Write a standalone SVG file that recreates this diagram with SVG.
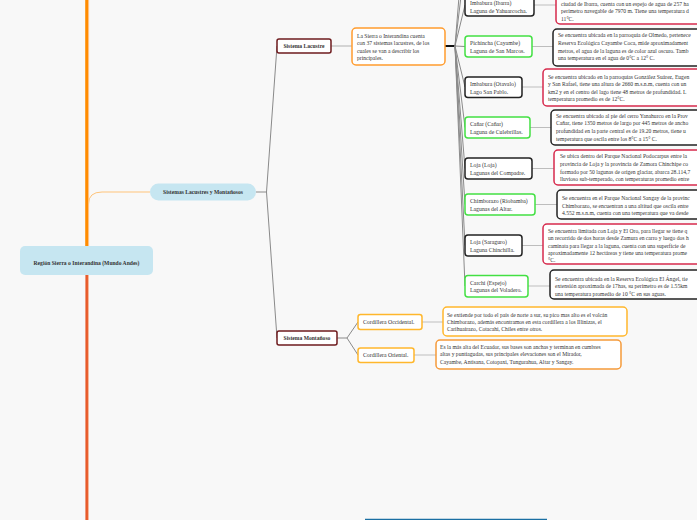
<svg xmlns="http://www.w3.org/2000/svg" width="697" height="520" viewBox="0 0 697 520">
<style>
text{font-family:"Liberation Serif","Times New Roman",serif;font-size:5.6px;fill:#333}
.b{font-weight:bold;text-anchor:middle}
.c{font-size:5.8px}
.blue{fill:#c6e6f1;stroke:none}
.sys{fill:#fff;stroke:#6e1b1e;stroke-width:1.5}
.blk{fill:#fff;stroke:#222;stroke-width:1.5}
.grn{fill:#fff;stroke:#43e043;stroke-width:1.5}
.red{fill:#fff;stroke:#d62a4c;stroke-width:1.5}
.org{fill:#fff;stroke:#ff9c2e;stroke-width:1.5}
.yel{fill:#fff;stroke:#ffb72c;stroke-width:1.5}
.g{fill:none;stroke:#8a8a8a;stroke-width:1}
.lg{fill:none;stroke:#bdbdbd;stroke-width:1.2}
</style>
<rect x="0" y="0" width="697" height="520" fill="#f8f8f8"/>
<g id="connectors">
<line x1="86.7" y1="0" x2="86.7" y2="246" stroke="#ff8c00" stroke-width="3"/>
<line x1="88.6" y1="0" x2="88.6" y2="246" stroke="#ffb46a" stroke-width="0.8"/>
<line x1="86.7" y1="275" x2="86.7" y2="520" stroke="#e85a2a" stroke-width="2.6"/>
<line x1="88.4" y1="275" x2="88.4" y2="520" stroke="#f5a07a" stroke-width="0.8"/>
<path d="M88.5,204 Q88.5,192 102,192 L150,192" fill="none" stroke="#ffc47a" stroke-width="1"/>
<path class="g" d="M256,192 L266.5,192 L277,46 M266.5,192 L277,338"/>
<line class="lg" x1="331" y1="46" x2="352" y2="46"/>
<line x1="445" y1="46" x2="456" y2="46" stroke="#111" stroke-width="2"/>
<path class="g" d="M455,46 L462,-40 M455,46 L463,-20 M455,46 L465,5 M455,46 L465,46.5 M455,46 L465,87 M455,46 L465,127.5 M455,46 L465,168.5 M455,46 L465,204.5 M455,46 L465,245.5 M455,46 L465,286"/>
<path class="lg" d="M534,5 L556,5 M532,46.5 L553,46.5 M522,87 L543,87 M530,127.5 L551,127.5 M532,168.5 L554,168.5 M535,204.5 L557,204.5 M522,245.5 L543,245.5 M528,286 L550,286"/>
<path class="g" d="M337,338 L347,338 L358,322 M347,338 L358,355"/>
<path class="lg" d="M422,322 L443,322 M414,355 L436,355"/>
<line x1="365" y1="519.5" x2="547" y2="519.5" stroke="#1a6fa3" stroke-width="1.5"/>
</g>
<g id="region">
<rect class="blue" x="20" y="246" width="133" height="29" rx="5"/>
<text class="b" x="86.5" y="265">Región Sierra o Interandina (Mundo Andes)</text>
</g>
<g id="sistemas">
<rect class="blue" x="150" y="183.5" width="106" height="17" rx="8.5"/>
<text class="b" x="203" y="194">Sistemas Lacustres y Montañosos</text>
</g>
<g id="lacustre">
<rect class="sys" x="277" y="39" width="54" height="14" rx="2"/>
<text class="b" x="304" y="48">Sistema Lacustre</text>
</g>
<g id="lacustre-desc">
<rect class="org" x="352" y="28" width="93" height="37" rx="4"/>
<text x="357" y="37.5">La Sierra o Interandina cuenta</text>
<text x="357" y="45">con 37 sistemas lacustres, de los</text>
<text x="357" y="52.5">cuales se van a describir los</text>
<text x="357" y="60">principales.</text>
</g>
<g id="ibarra">
<rect class="blk" x="465" y="-5" width="69" height="21" rx="3"/>
<text class="c" x="470" y="5">Imbabura (Ibarra)</text>
<text class="c" x="470" y="12.5">Laguna de Yahuarcocha.</text>
</g>
<g id="ibarra-desc">
<rect class="red" x="556" y="-30" width="160" height="54" rx="4"/>
<text x="561" y="5.5">ciudad de Ibarra, cuenta con un espejo de agua de 257 ha</text>
<text x="561" y="13">perímetro navegable de 7970 m. Tiene una temperatura d</text>
<text x="561" y="20.5">11°C.</text>
</g>
<g id="pichincha">
<rect class="grn" x="465" y="36" width="67" height="21" rx="3"/>
<text class="c" x="470" y="45">Pichincha (Cayambe)</text>
<text class="c" x="470" y="52.5">Laguna de San Marcos.</text>
</g>
<g id="pichincha-desc">
<rect class="blk" x="553" y="29" width="160" height="37" rx="4"/>
<text x="558" y="37">Se encuentra ubicada en la parroquia de Olmedo, pertenece</text>
<text x="558" y="44.5">Reserva Ecológica Cayambe Coca, mide aproximadament</text>
<text x="558" y="52.5">metros, el agua de la laguna es de color azul oscuro. Tamb</text>
<text x="558" y="60">una temperatura en el agua de 0°C a 12° C.</text>
</g>
<g id="otavalo">
<rect class="blk" x="465" y="77" width="57" height="20.5" rx="3"/>
<text class="c" x="470" y="86">Imbabura (Otavalo)</text>
<text class="c" x="470" y="93.5">Lago San Pablo.</text>
</g>
<g id="otavalo-desc">
<rect class="red" x="543" y="69" width="170" height="37" rx="4"/>
<text x="548" y="78.5">Se encuentra ubicado en la parroquias González Suárez, Eugen</text>
<text x="548" y="86">y San Rafael, tiene una altura de 2660 m.s.n.m, cuenta con un</text>
<text x="548" y="93.5">km2 y en el centro del lago tiene 48 metros de profundidad. L</text>
<text x="548" y="101">temperatura promedio es de 12°C.</text>
</g>
<g id="canar">
<rect class="grn" x="465" y="117" width="65" height="21" rx="3"/>
<text class="c" x="470" y="126">Cañar (Cañar)</text>
<text class="c" x="470" y="133.5">Laguna de Culebrillas.</text>
</g>
<g id="canar-desc">
<rect class="blk" x="551" y="110" width="160" height="35" rx="4"/>
<text x="556" y="117.5">Se encuentra ubicado al pie del cerro Yanahurco en la Prov</text>
<text x="556" y="125">Cañar, tiene 1350 metros de largo por 445 metros de ancho</text>
<text x="556" y="133">profundidad en la parte central es de 19.20 metros, tiene u</text>
<text x="556" y="140.5">temperatura que oscila entre los 8°C a 15° C.</text>
</g>
<g id="loja">
<rect class="blk" x="465" y="158" width="67" height="21" rx="3"/>
<text class="c" x="470" y="167">Loja (Loja)</text>
<text class="c" x="470" y="174.5">Lagunas del Compadre.</text>
</g>
<g id="loja-desc">
<rect class="red" x="554" y="150" width="160" height="35" rx="4"/>
<text x="560" y="158">Se ubica dentro del Parque Nacional Podocarpus entre la</text>
<text x="560" y="166">provincia de Loja y la provincia de Zamora Chinchipe co</text>
<text x="560" y="173.5">formado por 50 lagunas de origen glaciar, abarca 28.114,7</text>
<text x="560" y="181">lluvioso sub-temperado, con temperaturas promedio entre</text>
</g>
<g id="chimborazo">
<rect class="grn" x="465" y="194" width="70" height="21" rx="3"/>
<text class="c" x="470" y="203">Chimborazo (Riobamba)</text>
<text class="c" x="470" y="210.5">Lagunas del Altar.</text>
</g>
<g id="chimborazo-desc">
<rect class="blk" x="557" y="190" width="160" height="29" rx="4"/>
<text x="562" y="200">Se encuentra en el Parque Nacional Sangay de la provinc</text>
<text x="562" y="207.5">Chimborazo, se encuentran a una altitud que oscila entre</text>
<text x="562" y="215">4.552 m.s.n.m, cuenta con una temperatura que va desde</text>
</g>
<g id="saraguro">
<rect class="blk" x="465" y="235" width="57" height="21" rx="3"/>
<text class="c" x="470" y="244">Loja (Saraguro)</text>
<text class="c" x="470" y="251.5">Laguna Chinchilla.</text>
</g>
<g id="saraguro-desc">
<rect class="red" x="543" y="224" width="170" height="40" rx="4"/>
<text x="548" y="232.5">Se encuentra limitada con Loja y El Oro, para llegar se tiene q</text>
<text x="548" y="240">un recorrido de dos horas desde Zamura en carro y luego dos h</text>
<text x="548" y="247.5">caminata para llegar a la laguna, cuenta con una superficie de</text>
<text x="548" y="255">aproximadamente 12 hectáreas y tiene una  temperatura prome</text>
<text x="548" y="262">°C.</text>
</g>
<g id="carchi">
<rect class="grn" x="465" y="275.5" width="63" height="21.5" rx="3"/>
<text class="c" x="470" y="284.5">Carchi (Espejo)</text>
<text class="c" x="470" y="292">Lagunas del Voladero.</text>
</g>
<g id="carchi-desc">
<rect class="blk" x="550" y="270" width="160" height="29" rx="4"/>
<text x="555" y="280.5">Se encuentra ubicada en la Reserva Ecológica El Ángel, tie</text>
<text x="555" y="288">extensión aproximada de 17has, su perímetro es de 1.55km</text>
<text x="555" y="295.5">una temperatura promedio de 10 °C en sus aguas.</text>
</g>
<g id="montanoso">
<rect class="sys" x="277" y="331" width="60" height="14" rx="2"/>
<text class="b" x="307" y="340">Sistema Montañoso</text>
</g>
<g id="occidental">
<rect class="yel" x="358" y="314.5" width="64" height="15" rx="2.5"/>
<text class="c" x="363" y="324">Cordillera Occidental.</text>
</g>
<g id="occidental-desc">
<rect class="yel" x="443" y="307" width="184" height="29" rx="4"/>
<text x="447" y="316.5">Se extiende por todo el país de norte a sur, su pico mas alto es el volcán</text>
<text x="447" y="323.5">Chimborazo, además encontramos  en esta cordillera a los Illinizas, el</text>
<text x="447" y="331">Carihuairazo, Cotacahi, Chiles entre otros.</text>
</g>
<g id="oriental">
<rect class="yel" x="358" y="348" width="56" height="14.5" rx="2.5"/>
<text class="c" x="363" y="357">Cordillera Oriental.</text>
</g>
<g id="oriental-desc">
<rect fill="#fff" stroke="#f59a3a" stroke-width="1.5" x="436" y="340" width="185" height="29" rx="4"/>
<text x="440" y="348.5">Es la más alta del Ecuador, sus bases son anchas y terminan en cumbres</text>
<text x="440" y="356">altas y puntiagudas, sus principales elevaciones son el Mirador,</text>
<text x="440" y="363.5">Cayambe, Antisana, Cotopaxi, Tungurahua, Altar y Sangay.</text>
</g>
</svg>
